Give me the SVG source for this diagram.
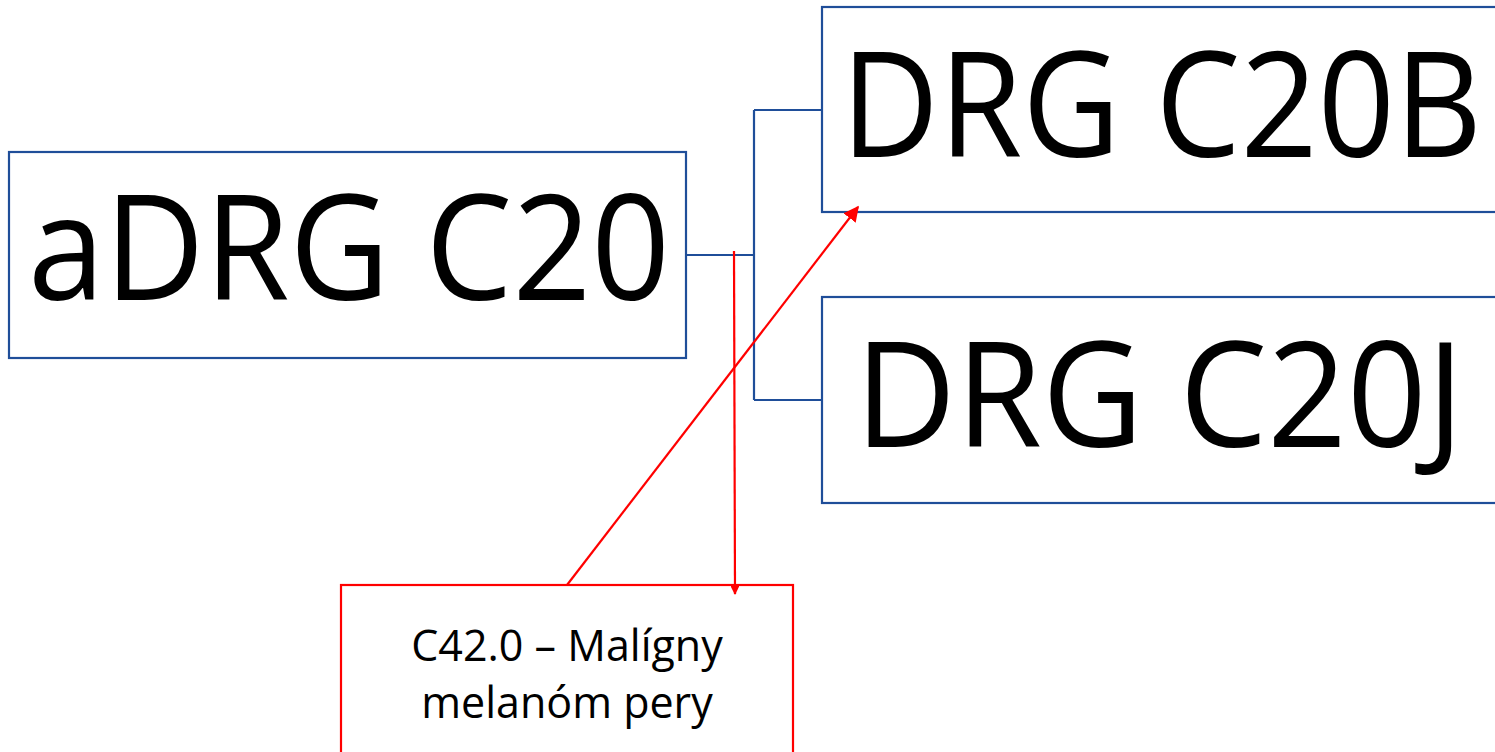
<svg xmlns="http://www.w3.org/2000/svg" width="1495" height="752" viewBox="0 0 1495 752">
  <style>
    .node { fill: #ffffff; stroke: #1f4e99; stroke-width: 2.2; }
    .note { fill: #ffffff; stroke: #ff0000; stroke-width: 2.2; }
    .big { font-family: "Open Sans", "Liberation Sans", sans-serif; font-size: 146px; fill: #000000; }
    .small { font-family: "Open Sans", "Liberation Sans", sans-serif; font-size: 43px; fill: #000000; text-anchor: middle; }
    .tree { fill: none; stroke: #1f4e99; stroke-width: 2.2; }
    .link { fill: none; stroke: #ff0000; stroke-width: 2.2; }
  </style>
  <defs>
    <marker id="arrow" viewBox="0 0 10 10" refX="9" refY="5" markerWidth="7" markerHeight="7" markerUnits="strokeWidth" orient="auto">
      <path d="M0,0 L10,5 L0,10 z" fill="#ff0000"/>
    </marker>
    <marker id="tick" viewBox="0 0 10 10" refX="9" refY="5" markerWidth="4" markerHeight="4" markerUnits="strokeWidth" orient="auto">
      <path d="M0,0 L10,5 L0,10 z" fill="#ff0000"/>
    </marker>
  </defs>

  <rect width="1495" height="752" fill="#ffffff"/>

  <g id="connectors">
    <path class="tree" d="M686,255 H754 M754,110 V400 M754,110 H822 M754,400 H822"/>
  </g>

  <g id="node-adrg-c20">
    <rect class="node" x="9" y="152" width="677" height="206"/>
    <text class="big" x="28" y="300" textLength="642" lengthAdjust="spacingAndGlyphs">aDRG C20</text>
  </g>

  <!-- the two child boxes run on past the right edge of the canvas -->
  <g id="node-drg-c20b">
    <rect class="node" x="822" y="7" width="690" height="205"/>
    <text class="big" x="841" y="157" textLength="641" lengthAdjust="spacingAndGlyphs">DRG C20B</text>
  </g>

  <g id="node-drg-c20j">
    <rect class="node" x="822" y="297" width="690" height="206"/>
    <text class="big" x="855" y="447" textLength="609" lengthAdjust="spacingAndGlyphs">DRG C20J</text>
  </g>

  <g id="node-c42">
    <rect class="note" x="341" y="585" width="452" height="190"/>
    <text class="small" x="567" y="661">C42.0 – Malígny</text>
    <text class="small" x="567" y="718">melanóm pery</text>
  </g>

  <g id="annotation-links">
    <path class="link" d="M567,585 L858,207" marker-end="url(#arrow)"/>
    <path class="link" d="M734,251 L735,594" marker-end="url(#tick)"/>
  </g>
</svg>
